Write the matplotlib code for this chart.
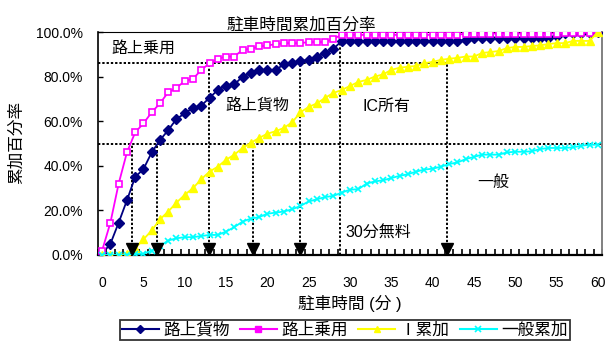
import matplotlib
matplotlib.use("Agg")
import matplotlib.pyplot as plt
from matplotlib.lines import Line2D
from matplotlib.ticker import FixedLocator, FuncFormatter
from matplotlib.transforms import offset_copy

plt.rcParams["font.family"] = ["Liberation Sans", "Noto Sans CJK JP"]

# parking time, minutes 0..60
minutes = list(range(61))

# cumulative share (%) per minute
truck = [0.5, 5, 14.5, 24.5, 35, 38.5, 46, 51.5, 56, 61,
         63.5, 66, 67, 70.5, 74, 76, 76.5, 80, 81.5, 83,
         83, 83, 85.5, 86, 87, 87.5, 89, 90.5, 92.5, 96,
         96, 96, 96, 96, 96, 96, 96, 96, 96, 96,
         96, 96, 96, 96, 96.5, 97.2, 97.2, 97.2, 97.2, 97.2,
         97.2, 97.2, 97.2, 97.2, 97.2, 98, 99.5, 99.5, 99.5, 99.5,
         100]
car = [2, 14.5, 32, 46, 55, 59, 64, 68, 73, 75,
       78, 79, 83, 86, 88, 89, 89, 92, 92.5, 93.5,
       94, 94.5, 95, 95, 95, 95.5, 95.5, 95.5, 97, 98.7,
       98.7, 98.7, 98.7, 98.7, 98.7, 98.7, 98.7, 98.7, 98.7, 98.7,
       98.7, 98.7, 98.7, 98.7, 99.3, 99.3, 99.3, 99.3, 99.3, 99.3,
       99.3, 99.3, 99.3, 99.3, 99.3, 99.3, 99.7, 99.7, 99.7, 99.7,
       100]
ic = [0, 0, 0, 0.5, 3, 7, 11, 16, 19.5, 23.5,
      27, 30, 34, 37.4, 39.6, 42.7, 45, 48, 50.3, 52.5,
      54.4, 55.5, 57, 59.5, 64, 66.4, 68, 70.5, 72.7, 74,
      75.8, 77.6, 78.5, 80, 81, 83, 84, 84.4, 84.8, 86,
      86.6, 87.5, 88, 88.4, 89, 89, 90.6, 91, 91.5, 92.8,
      93.3, 93.3, 93.7, 94, 94.6, 95, 95, 96, 96, 96,
      100]
general = [0, 0, 0, 0, 0.5, 0.5, 2, 4, 6.5, 7.5,
           8, 8, 8.5, 9, 9, 10.5, 12.5, 15, 16.3, 17,
           18.5, 19, 19.5, 20.5, 22, 24, 25, 26, 26.5, 28,
           29.3, 29.5, 32, 33, 33.5, 34.5, 35.5, 36.2, 37.4, 38.3,
           38.7, 39.6, 40.8, 41.5, 43, 44, 45, 45, 45, 46,
           46.3, 46.3, 46.5, 47.5, 48, 48, 48, 48.3, 49, 49.4,
           49.5]

# reference levels and the minutes where each curve reaches them
level_half = 50
level_high = 86
cross_half = [3.6, 6.7, 18.2]     # car, truck, IC
cross_high = [12.9, 24.0, 41.8]   # car, truck, IC
free_limit = 28.8                 # 30 min free parking boundary

fig = plt.figure(figsize=(6.07, 3.45), dpi=100)
ax = fig.add_axes([98 / 607, 1 - 255 / 345, 504 / 607, 223 / 345])

ax.plot(minutes, truck, color="#000080", lw=1.3, marker="D", ms=4.8,
        label="路上貨物", zorder=3)
ax.plot(minutes, car, color="#FF00FF", lw=1.3, marker="s", ms=4.3,
        mfc="white", mew=1.2, label="路上乗用", zorder=3)
ax.plot(minutes, ic, color="#FFFF00", lw=1.3, marker="^", ms=6,
        label="Ⅰ累加", zorder=3)
ax.plot(minutes, general, color="#00FFFF", lw=1.3, marker="x", ms=5,
        mew=1.2, label="一般累加", zorder=3)

# dotted guide lines
dot = dict(color="black", lw=1.4, linestyle=(0, (1.2, 1.0)), zorder=2)
ax.plot([-0.5, 60.5], [level_half, level_half], **dot)
ax.plot([-0.5, cross_high[-1]], [level_high, level_high], **dot)
for x in cross_half:
    ax.plot([x, x], [0, level_half], **dot)
for x in cross_high:
    ax.plot([x, x], [0, level_high], **dot)
ax.plot([free_limit, free_limit], [0, 100], **dot)

# arrow heads sitting on the x axis
head_tf = offset_copy(ax.transData, fig=fig, x=0, y=4, units="points")
heads = cross_half + cross_high
ax.plot(heads, [0] * len(heads), linestyle="none", marker="v", ms=8,
        color="black", transform=head_tf, zorder=4, clip_on=False)

ax.set_xlim(-0.5, 60.5)
ax.set_ylim(0, 100)

ax.xaxis.set_major_locator(FixedLocator(range(0, 61, 5)))
ax.xaxis.set_minor_locator(FixedLocator([k - 0.5 for k in range(62)]))
ax.tick_params(axis="x", which="major", length=0, pad=15, labelsize=10)
ax.tick_params(axis="x", which="minor", direction="in", length=4, width=1.2)
ax.set_yticks(range(0, 101, 20))
ax.yaxis.set_major_formatter(FuncFormatter(lambda v, p: f"{v:.1f}%"))
ax.tick_params(axis="y", direction="in", length=3.5, width=1, pad=11,
               labelsize=10)

for side in ("left", "bottom"):
    ax.spines[side].set_color("black")
ax.spines["left"].set_linewidth(1.2)
ax.spines["bottom"].set_linewidth(1.6)
ax.spines["top"].set_linewidth(0.8)
ax.spines["right"].set_color("#808080")
ax.spines["right"].set_linewidth(1.4)

txt = dict(fontsize=11.5, ha="left", va="center", zorder=5)
ax.text(1.1, 92.8, "路上乗用", **txt)
ax.text(14.9, 66.9, "路上貨物", **txt)
ax.text(31.5, 66.4, "IC所有", **txt)
ax.text(45.4, 32.4, "一般", **txt)
ax.text(29.4, 10, "30分無料", **txt)

fig.text(0.496, 1 - 25.5 / 345, "駐車時間累加百分率", fontsize=12,
         ha="center", va="center")
fig.text(16 / 607, 1 - 142.5 / 345, "累加百分率", fontsize=12, rotation=90,
         ha="center", va="center")
fig.text(350 / 607, 1 - 304 / 345, "駐車時間 (分 )", fontsize=12,
         ha="center", va="center")

handles = [
    Line2D([], [], color="#000080", lw=1.5, marker="D", ms=4),
    Line2D([], [], color="#FF00FF", lw=1.5, marker="s", ms=4),
    Line2D([], [], color="#FFFF00", lw=1.5, marker="^", ms=5),
    Line2D([], [], color="#00FFFF", lw=1.5, marker="x", ms=5, mew=1.2),
]
labels = ["路上貨物", "路上乗用", "Ⅰ累加", "一般累加"]
leg = fig.legend(handles, labels, loc="upper center",
                 bbox_to_anchor=(345 / 607, 1 - 320 / 345), ncol=4,
                 prop={"family": ["Noto Sans CJK JP"], "size": 12},
                 frameon=True, fancybox=False, handlelength=2.2,
                 handletextpad=0.3, columnspacing=0.6, borderpad=0.1,
                 borderaxespad=0)
leg.get_frame().set_edgecolor("black")
leg.get_frame().set_linewidth(1.3)

plt.savefig("out.png", dpi=100)
